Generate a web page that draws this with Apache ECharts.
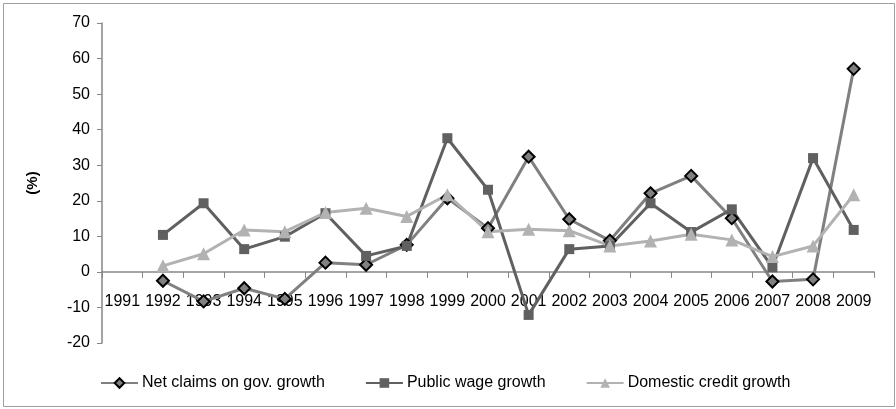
<!DOCTYPE html>
<html>
<head>
<meta charset="utf-8">
<script src="https://cdn.jsdelivr.net/npm/echarts@6/dist/echarts.min.js"></script>
<style>
html,body{margin:0;padding:0;background:#fff;}
#chart{width:896px;height:409px;}
</style>
</head>
<body>
<div id="chart"></div>
<script>
const categories = ['1991','1992','1993','1994','1995','1996','1997','1998','1999','2000','2001','2002','2003','2004','2005','2006','2007','2008','2009'];
const netClaims = [null,-2.5,-8.3,-4.6,-7.6,2.6,2.0,7.6,20.7,12.3,32.4,14.8,8.8,22.1,27.0,15.1,-2.7,-2.1,57.1];
const publicWage = [null,10.4,19.3,6.4,9.9,16.5,4.5,7.3,37.6,23.1,-12.1,6.4,7.3,19.3,11.2,17.6,1.3,32.0,11.8];
const domesticCredit = [null,1.7,5.1,11.8,11.3,16.7,17.9,15.6,21.7,11.3,12.0,11.6,7.3,8.7,10.6,9.0,4.3,7.3,21.7];
const seriesNames = ['Net claims on gov. growth','Public wage growth','Domestic credit growth'];

const chart = echarts.init(document.getElementById('chart'), null, {renderer:'canvas'});
const axisColor = '#868686';
const font = 'Liberation Sans';
const gridTop = 23, gridBottom = 66, chartH = 409;
const yMin = -20, yMax = 70;
// shift the category axis up so it sits on the zero line
const zeroOffset = -(chartH - gridTop - gridBottom) * (0 - yMin) / (yMax - yMin);
chart.setOption({
  animation:false,
  backgroundColor:'#fff',
  graphic:[{type:'rect',shape:{x:3.5,y:3.5,width:891,height:403},style:{fill:'none',stroke:'#a0a0a0',lineWidth:1},silent:true}],
  grid:{left:102,right:22,top:gridTop,bottom:gridBottom},
  legend:{
    top:375,left:100,padding:0,
    itemWidth:37,itemHeight:12,itemGap:40,
    textStyle:{fontFamily:font,fontSize:16,color:'#000',padding:[0,0,0,-1]},
    data:seriesNames
  },
  xAxis:{
    type:'category',data:categories,boundaryGap:true,
    offset:zeroOffset,
    axisLine:{onZero:false,lineStyle:{color:axisColor,width:1.5}},
    axisTick:{show:true,length:6,lineStyle:{color:axisColor,width:1}},
    axisLabel:{interval:0,margin:22,color:'#000',fontFamily:font,fontSize:16},
    splitLine:{show:false}
  },
  yAxis:{
    type:'value',min:yMin,max:yMax,interval:10,
    name:'(%)',nameLocation:'middle',nameGap:62,
    nameTextStyle:{fontFamily:font,fontSize:15,fontWeight:'bold',color:'#000'},
    axisLine:{show:true,lineStyle:{color:axisColor,width:1.5}},
    axisTick:{show:true,length:5,lineStyle:{color:axisColor}},
    axisLabel:{margin:12,color:'#000',fontFamily:font,fontSize:16},
    splitLine:{show:false}
  },
  series:[
    {name:seriesNames[0],type:'line',data:netClaims,
     symbol:'diamond',symbolSize:12,
     lineStyle:{color:'#808080',width:3},
     itemStyle:{color:'#808080',borderColor:'#000',borderWidth:2}},
    {name:seriesNames[1],type:'line',data:publicWage,
     symbol:'rect',symbolSize:10,
     lineStyle:{color:'#606060',width:3},
     itemStyle:{color:'#606060'}},
    {name:seriesNames[2],type:'line',data:domesticCredit,
     symbol:'triangle',symbolSize:13,
     lineStyle:{color:'#b2b2b2',width:3},
     itemStyle:{color:'#b2b2b2'}}
  ]
});
</script>
</body>
</html>
